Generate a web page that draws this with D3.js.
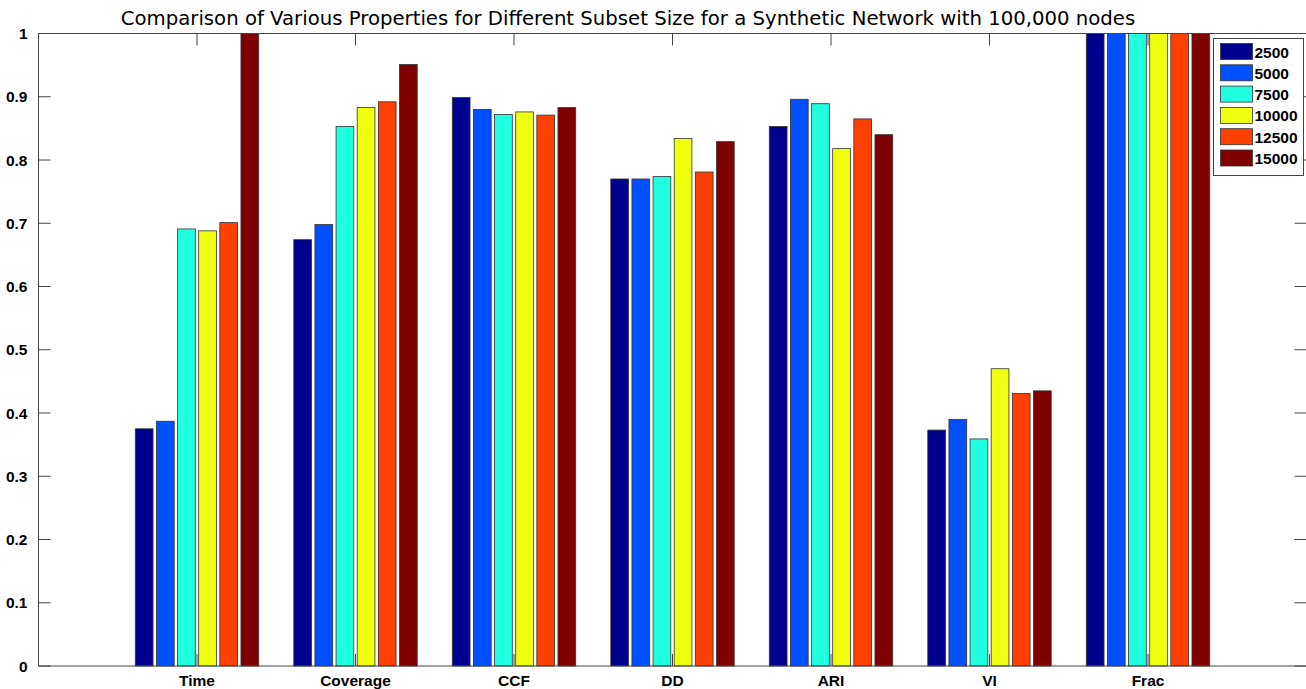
<!DOCTYPE html>
<html>
<head>
<meta charset="utf-8">
<script src="https://cdn.jsdelivr.net/npm/d3@7"></script>
<style>
  body { margin: 0; background: #fff; }
  svg { display: block; }
</style>
</head>
<body>
<div id="chart"></div>
<script>
// data
const categories = ["Time", "Coverage", "CCF", "DD", "ARI", "VI", "Frac"];
const subsetSizes = ["2500", "5000", "7500", "10000", "12500", "15000"];
const s2500  = [0.375, 0.674, 0.899, 0.770, 0.853, 0.373, 1.0];
const s5000  = [0.387, 0.698, 0.880, 0.770, 0.896, 0.390, 1.0];
const s7500  = [0.691, 0.853, 0.872, 0.774, 0.889, 0.359, 1.0];
const s10000 = [0.688, 0.883, 0.876, 0.834, 0.818, 0.470, 1.0];
const s12500 = [0.701, 0.892, 0.871, 0.781, 0.865, 0.431, 1.0];
const s15000 = [1.0,   0.951, 0.883, 0.829, 0.840, 0.435, 1.0];
const series = [s2500, s5000, s7500, s10000, s12500, s15000];
const yTicks = [0, 0.1, 0.2, 0.3, 0.4, 0.5, 0.6, 0.7, 0.8, 0.9, 1];
const colors = ["#00008f", "#0050ff", "#20ffdf", "#efff10", "#ff4000", "#800000"];

const width = 1306, height = 689;
const plotL = 38.5, plotR = 1306.5, plotT = 33.5, plotB = 666;
const labelFont = "15.5px";

const svg = d3.select("#chart").append("svg")
    .attr("width", width)
    .attr("height", height);

// x positions work like matlab: categories at 1..7, limits 0..8
const x = d3.scaleLinear().domain([0, 8]).range([plotL, plotR]);
const y = d3.scaleLinear().domain([0, 1]).range([plotB, plotT]);

const groupWidth = 0.8;
const pitch = groupWidth / series.length;
const barW = pitch * 0.84;

// bars
series.forEach((vals, si) => {
    svg.append("g")
        .selectAll("rect")
        .data(vals)
        .join("rect")
        .attr("x", (d, i) => x(i + 1 - groupWidth / 2 + pitch * si + (pitch - barW) / 2))
        .attr("width", x(barW) - x(0))
        .attr("y", d => y(d))
        .attr("height", d => y(0) - y(d))
        .attr("fill", colors[si])
        .attr("stroke", "#333")
        .attr("stroke-width", 0.8);
});

// frame
svg.append("rect")
    .attr("x", plotL).attr("y", plotT)
    .attr("width", plotR - plotL).attr("height", plotB - plotT)
    .attr("fill", "none")
    .attr("stroke", "#444")
    .attr("stroke-width", 1);

const tickLen = 12;

// y ticks, left and right, pointing inward
const yAxisG = svg.append("g");
yAxisG.selectAll("line.l")
    .data(yTicks)
    .join("line")
    .attr("class", "l")
    .attr("x1", plotL).attr("x2", plotL + tickLen)
    .attr("y1", d => y(d)).attr("y2", d => y(d))
    .attr("stroke", "#444");
yAxisG.selectAll("line.r")
    .data(yTicks)
    .join("line")
    .attr("class", "r")
    .attr("x1", plotR - tickLen).attr("x2", plotR)
    .attr("y1", d => y(d)).attr("y2", d => y(d))
    .attr("stroke", "#444");
yAxisG.selectAll("text")
    .data(yTicks)
    .join("text")
    .attr("x", plotL - 11)
    .attr("y", d => y(d) + 5.5)
    .attr("text-anchor", "end")
    .style("font-family", "Liberation Sans, Arial, sans-serif")
    .style("font-weight", "bold")
    .style("font-size", labelFont)
    .text(d => String(d));

// x ticks, top and bottom
const xAxisG = svg.append("g");
xAxisG.selectAll("line.b")
    .data(categories)
    .join("line")
    .attr("class", "b")
    .attr("x1", (d, i) => x(i + 1)).attr("x2", (d, i) => x(i + 1))
    .attr("y1", plotB).attr("y2", plotB - tickLen)
    .attr("stroke", "#444");
xAxisG.selectAll("line.t")
    .data(categories)
    .join("line")
    .attr("class", "t")
    .attr("x1", (d, i) => x(i + 1)).attr("x2", (d, i) => x(i + 1))
    .attr("y1", plotT).attr("y2", plotT + tickLen)
    .attr("stroke", "#444");
xAxisG.selectAll("text")
    .data(categories)
    .join("text")
    .attr("x", (d, i) => x(i + 1))
    .attr("y", plotB + 20)
    .attr("text-anchor", "middle")
    .style("font-family", "Liberation Sans, Arial, sans-serif")
    .style("font-weight", "bold")
    .style("font-size", labelFont)
    .text(d => d);

// title
svg.append("text")
    .attr("x", 628)
    .attr("y", 25)
    .attr("text-anchor", "middle")
    .style("font-family", "DejaVu Sans, sans-serif")
    .style("font-size", "19.7px")
    .text("Comparison of Various Properties for Different Subset Size for a Synthetic Network with 100,000 nodes");

// legend
const legX = 1213.5, legY = 38.5, legW = 90, legH = 137;
const legend = svg.append("g");
legend.append("rect")
    .attr("x", legX).attr("y", legY)
    .attr("width", legW).attr("height", legH)
    .attr("fill", "#fff")
    .attr("stroke", "#444");
const rows = legend.selectAll("g.row")
    .data(subsetSizes)
    .join("g")
    .attr("class", "row")
    .attr("transform", (d, i) => `translate(${legX + 7},${legY + 5 + i * 21.3})`);
rows.append("rect")
    .attr("width", 32).attr("height", 16)
    .attr("fill", (d, i) => colors[i])
    .attr("stroke", "#333")
    .attr("stroke-width", 0.8);
rows.append("text")
    .attr("x", 34)
    .attr("y", 14)
    .style("font-family", "Liberation Sans, Arial, sans-serif")
    .style("font-weight", "bold")
    .style("font-size", labelFont)
    .text(d => d);
</script>
</body>
</html>
